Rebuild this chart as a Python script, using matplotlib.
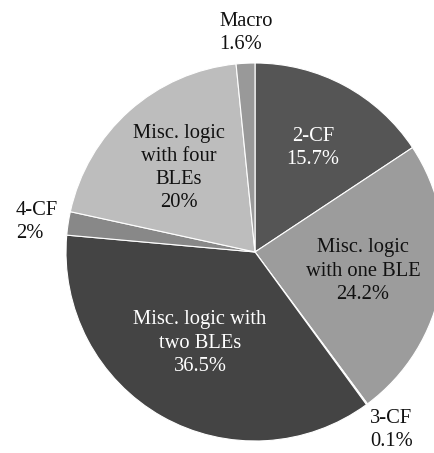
import matplotlib
matplotlib.use("Agg")
import matplotlib.pyplot as plt

# Share of each logic category (clockwise from 12 o'clock)
categories = ["2-CF", "Misc. logic\nwith one BLE", "3-CF", "Misc. logic with\ntwo BLEs",
              "4-CF", "Misc. logic\nwith four\nBLEs", "Macro"]
shares = [15.7, 24.2, 0.1, 36.5, 2.0, 20.0, 1.6]
colors = ["#555555", "#9c9c9c", "#6a6a6a", "#444444", "#888888", "#bdbdbd", "#999999"]
text_colors = ["white", "#111111", "#111111", "white", "#111111", "#111111", "#111111"]

# label anchor points in pixel coordinates (x, y from top) and alignment
label_pos = [(313, 148, "center"), (363, 271, "center"), (370, 430, "left"),
             (200, 343, "center"), (16, 222, "left"), (179, 168, "center"),
             (219, 33, "left")]

W, H = 435, 453
fig = plt.figure(figsize=(W / 100, H / 100), dpi=100)
ax = fig.add_axes([0, 0, 1, 1])

ax.pie(shares, colors=colors, startangle=90, counterclock=False,
       center=(255, H - 252), radius=189,
       wedgeprops=dict(edgecolor="white", linewidth=0.8))

ax.set_xlim(0, W)
ax.set_ylim(0, H)
ax.set_aspect("equal")
ax.axis("off")

for name, val, tc, (x, y, ha) in zip(categories, shares, text_colors, label_pos):
    ax.text(x, H - y, f"{name}\n{val:g}%", ha=ha, va="center", color=tc,
            family="Liberation Serif", fontsize=14.8, linespacing=1.3,
            multialignment="center" if ha == "center" else "left")

fig.savefig("out.png", dpi=100)
